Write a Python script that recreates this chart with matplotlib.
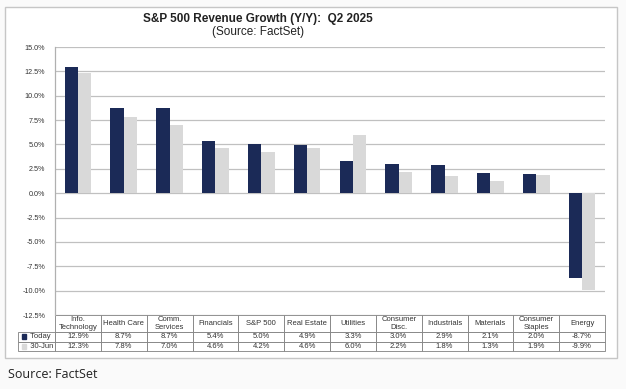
import numpy as np
import matplotlib.pyplot as plt
from matplotlib.patches import Rectangle
from matplotlib.ticker import FuncFormatter

plt.rcParams['font.family'] = ['Liberation Sans', 'DejaVu Sans']

sectors = ["Info.\nTechnology", "Health Care", "Comm.\nServices", "Financials", "S&P 500",
           "Real Estate", "Utilities", "Consumer\nDisc.", "Industrials", "Materials",
           "Consumer\nStaples", "Energy"]
today = [12.9, 8.7, 8.7, 5.4, 5.0, 4.9, 3.3, 3.0, 2.9, 2.1, 2.0, -8.7]
jun30 = [12.3, 7.8, 7.0, 4.6, 4.2, 4.6, 6.0, 2.2, 1.8, 1.3, 1.9, -9.9]
yticks = np.arange(-12.5, 15.01, 2.5)

navy = "#1b2a57"
grey = "#d9d9d9"
W, H = 626, 389

fig = plt.figure(figsize=(6.26, 3.89), dpi=100)
fig.patch.set_facecolor("#fafafa")

# white framed panel (behind everything)
bg = fig.add_axes([0, 0, 1, 1], zorder=-10)
bg.set_axis_off()
bg.set_xlim(0, W)
bg.set_ylim(H, 0)
bg.add_patch(Rectangle((5, 7), 612, 351, facecolor="white", edgecolor="#c6c6c6", lw=1.0))

fig.text(258 / W, 1 - 19 / H, "S&P 500 Revenue Growth (Y/Y):  Q2 2025", ha="center", va="center",
         fontsize=8.5, fontweight="bold", color="#222222")
fig.text(258 / W, 1 - 32 / H, "(Source: FactSet)", ha="center", va="center",
         fontsize=8.5, color="#222222")
fig.text(8 / W, 1 - 375 / H, "Source: FactSet", ha="left", va="center",
         fontsize=9, color="#222222", family=["Open Sans", "DejaVu Sans"])

x0, x1, ytop, ybot = 55, 605, 47, 315
ax = fig.add_axes([x0 / W, 1 - ybot / H, (x1 - x0) / W, (ybot - ytop) / H])
ax.set_facecolor("white")

x = np.arange(len(sectors))
bw = 0.29
ax.bar(x - bw / 2, today, bw, color=navy, zorder=3)
ax.bar(x + bw / 2, jun30, bw, color=grey, zorder=3)

ax.set_xlim(-0.5, len(sectors) - 0.5)
ax.set_ylim(-12.5, 15.0)
ax.set_yticks(yticks)
ax.yaxis.set_major_formatter(FuncFormatter(lambda v, p: f"{v:.1f}%"))
ax.tick_params(axis="y", labelsize=5.2, length=0, pad=7, labelcolor="#333333")
ax.set_xticks([])
ax.grid(axis="y", color="#c0c0c0", lw=0.9, zorder=0)
for s in ["top", "right", "bottom"]:
    ax.spines[s].set_visible(False)
ax.spines["left"].set_color("#b0b0b0")
ax.spines["left"].set_linewidth(0.9)

# data table under the plot
rows = [[""] + sectors,
        ["Today"] + [f"{v:.1f}%" for v in today],
        ["30-Jun"] + [f"{v:.1f}%" for v in jun30]]
lab_w = 37
colw = [lab_w] + [(x1 - x0) / len(sectors)] * len(sectors)
colw = [c / sum(colw) for c in colw]
tb_h = (351 - ybot) / (ybot - ytop)
tbl = ax.table(cellText=rows, colWidths=colw, cellLoc="center",
               bbox=[-lab_w / (x1 - x0), -tb_h, 1 + lab_w / (x1 - x0), tb_h])
tbl.auto_set_font_size(False)
tbl.set_fontsize(5.5)
for (r, c), cell in tbl.get_celld().items():
    cell.set_edgecolor("#808080")
    cell.set_linewidth(0.6)
    cell.get_text().set_color("#333333")
    cell.set_height(1.8 if r == 0 else 1.0)
    if r == 0 and c == 0:
        cell.visible_edges = ""
    if c == 0 and r > 0:
        cell.get_text().set_ha("left")
        cell.PAD = 0.22
        cell.get_text().set_text("  " + rows[r][0])

# legend keys in the row labels
for r, col in ((1, navy), (2, grey)):
    yc = -tb_h + tb_h * (2 - r + 0.5) / 3.8
    ax.add_patch(Rectangle((-33 / (x1 - x0), yc - 0.009), 3.5 / (x1 - x0), 0.018,
                           transform=ax.transAxes, color=col, clip_on=False, zorder=5))

fig.savefig("out.png", dpi=100, facecolor=fig.get_facecolor())
